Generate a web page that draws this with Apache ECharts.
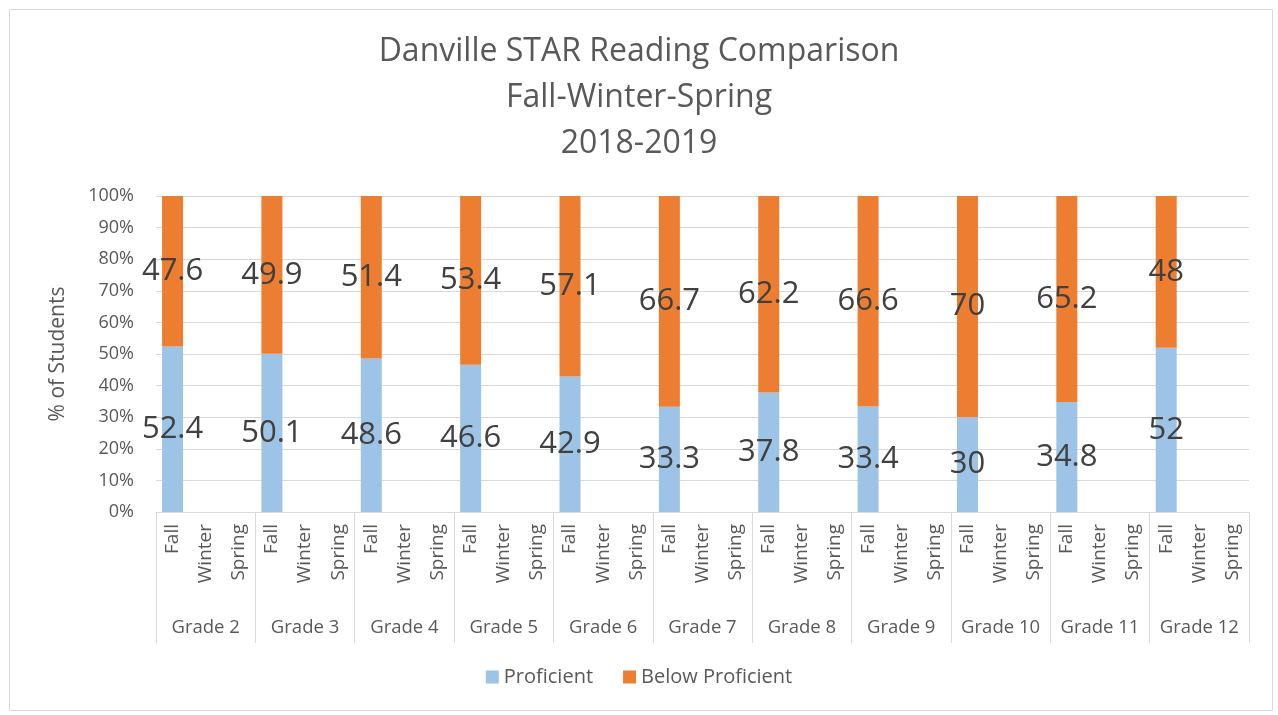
<!DOCTYPE html>
<html>
<head>
<meta charset="utf-8">
<script src="https://cdn.jsdelivr.net/npm/echarts@6/dist/echarts.min.js"></script>
<style>
	html, body { margin: 0; padding: 0; background: #fff; }
	#chart { width: 1278px; height: 715px; }
</style>
</head>
<body>
<div id="chart"></div>
<script>
/* Chart data */
const grades = ["Grade 2", "Grade 3", "Grade 4", "Grade 5", "Grade 6", "Grade 7",
	"Grade 8", "Grade 9", "Grade 10", "Grade 11", "Grade 12"];
const terms = ["Fall", "Winter", "Spring"];
const proficientFall = [52.4, 50.1, 48.6, 46.6, 42.9, 33.3, 37.8, 33.4, 30, 34.8, 52];
const belowFall = [47.6, 49.9, 51.4, 53.4, 57.1, 66.7, 62.2, 66.6, 70, 65.2, 48];
const yTicks = [0, 10, 20, 30, 40, 50, 60, 70, 80, 90, 100];

/*
 * Flatten grade x term into one category list, only Fall has values
 */
const termCategories = [];
const proficientData = [];
const belowData = [];
grades.forEach((g, i) => {
	terms.forEach((t) => {
		termCategories.push(t);
		proficientData.push(t === "Fall" ? proficientFall[i] : null);
		belowData.push(t === "Fall" ? belowFall[i] : null);
	});
});

const FONT = "Open Sans";
const TEXT = "#595959";
const LINE = "#d9d9d9";

const barLabel = () => ({
	show: true,
	position: "inside",
	color: "#404040",
	fontFamily: FONT,
	fontSize: 31,
	formatter: (p) => (p.value == null ? "" : String(p.value)),
});

const option = {
	animation: false,
	textStyle: { fontFamily: FONT },
	title: {
		text: "Danville STAR Reading Comparison\nFall-Winter-Spring\n2018-2019",
		left: "center",
		top: 24,
		textStyle: {
			color: TEXT,
			fontFamily: FONT,
			fontWeight: "normal",
			fontSize: 32,
			lineHeight: 46,
		},
	},
	legend: {
		bottom: 23,
		left: "center",
		itemWidth: 13,
		itemHeight: 13,
		itemGap: 30,
		icon: "rect",
		textStyle: { color: TEXT, fontFamily: FONT, fontSize: 20 },
		data: ["Proficient", "Below Proficient"],
	},
	grid: { left: 156, right: 29, top: 196, bottom: 203, containLabel: false },
	xAxis: [
		{
			type: "category",
			data: termCategories,
			gridIndex: 0,
			axisLine: { show: true, lineStyle: { color: LINE, width: 1 } },
			axisTick: { show: false },
			axisLabel: {
				interval: 0,
				rotate: 90,
				color: TEXT,
				fontFamily: FONT,
				fontSize: 19,
				margin: 12,
			},
		},
		{
			type: "category",
			data: grades,
			gridIndex: 0,
			position: "bottom",
			axisLine: { show: false },
			axisTick: {
				show: true,
				interval: 0,
				length: 131,
				lineStyle: { color: LINE, width: 1 },
			},
			axisLabel: {
				interval: 0,
				color: TEXT,
				fontFamily: FONT,
				fontSize: 18.5,
				margin: 106,
			},
		},
	],
	yAxis: {
		type: "value",
		min: 0,
		max: 100,
		interval: 10,
		name: "% of Students",
		nameLocation: "middle",
		nameGap: 87,
		nameTextStyle: { color: TEXT, fontFamily: FONT, fontSize: 21 },
		axisLine: { show: false },
		axisTick: { show: false },
		axisLabel: {
			color: TEXT,
			fontFamily: FONT,
			fontSize: 18,
			margin: 22,
			formatter: (v) => (yTicks.includes(v) ? v + "%" : ""),
		},
		splitLine: { lineStyle: { color: LINE, width: 1 } },
	},
	series: [
		{
			name: "Proficient",
			type: "bar",
			stack: "total",
			xAxisIndex: 0,
			barWidth: 21,
			itemStyle: { color: "#9dc3e6" },
			label: barLabel(),
			data: proficientData,
		},
		{
			name: "Below Proficient",
			type: "bar",
			stack: "total",
			xAxisIndex: 0,
			barWidth: 21,
			itemStyle: { color: "#ed7d31" },
			label: barLabel(),
			data: belowData,
		},
	],
	graphic: [
		{
			type: "rect",
			left: 7,
			top: 7,
			shape: { width: 1263, height: 701 },
			style: { fill: "none", stroke: LINE, lineWidth: 1 },
			silent: true,
		},
	],
};

const myChart = echarts.init(document.getElementById("chart"));
myChart.setOption(option);

window.addEventListener("resize", function () {
	myChart.resize();
});
</script>
</body>
</html>
